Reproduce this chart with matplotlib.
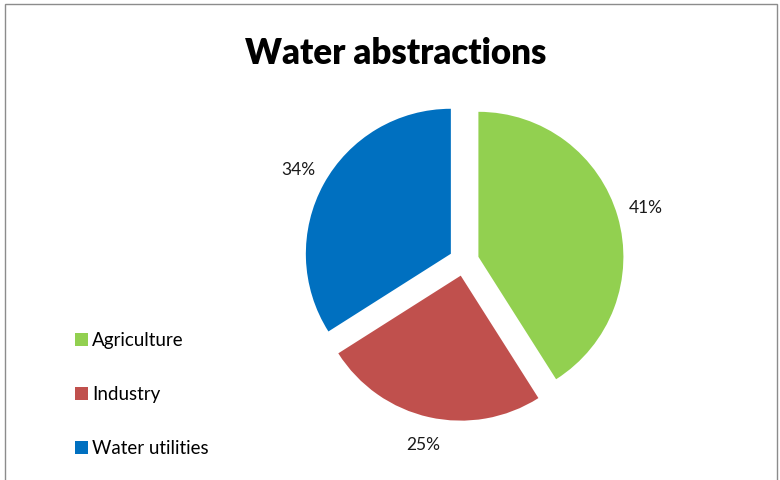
import matplotlib
matplotlib.use('Agg')
import matplotlib.pyplot as plt
from matplotlib.patches import Rectangle

# data
categories = ['Agriculture', 'Industry', 'Water utilities']
shares = [41, 25, 34]
colors = ['#92D050', '#C0504D', '#0070C0']

plt.rcParams['font.family'] = ['Lato', 'DejaVu Sans']

W, H = 780, 480
fig = plt.figure(figsize=(W / 100, H / 100), dpi=100, facecolor='white')
ax = fig.add_axes([0, 0, 1, 1])

# explode is in data units here (axes are in pixels)
wedges, _, autotexts = ax.pie(
    shares, colors=colors, startangle=90, counterclock=False,
    center=(464, H - 261), radius=145, explode=[15] * 3,
    autopct='%1.0f%%', pctdistance=1.2,
    textprops=dict(fontsize=12.5, color='#1a1a1a'),
    wedgeprops=dict(linewidth=0))

# pie() resets the limits, so set pixel-like limits afterwards
ax.set_xlim(0, W)
ax.set_ylim(0, H)
ax.set_aspect('equal')
ax.axis('off')

# chart frame
ax.add_patch(Rectangle((4.5, -5), W - 8, H - 3.5 + 5, fill=False,
                       edgecolor='#8c8c8c', lw=1.0))

ax.text(396, H - 53, 'Water abstractions', ha='center', va='center',
        fontsize=25, fontweight='heavy', color='black')

ax.legend(wedges, categories, loc='upper left',
          bbox_to_anchor=(75 / W, 1 - 332 / H), bbox_transform=fig.transFigure,
          frameon=False, fontsize=13.5, handlelength=0.68, handleheight=0.68,
          handletextpad=0.22, labelspacing=1.98, borderaxespad=0,
          borderpad=0)

fig.savefig('out.png', dpi=100, facecolor='white')
